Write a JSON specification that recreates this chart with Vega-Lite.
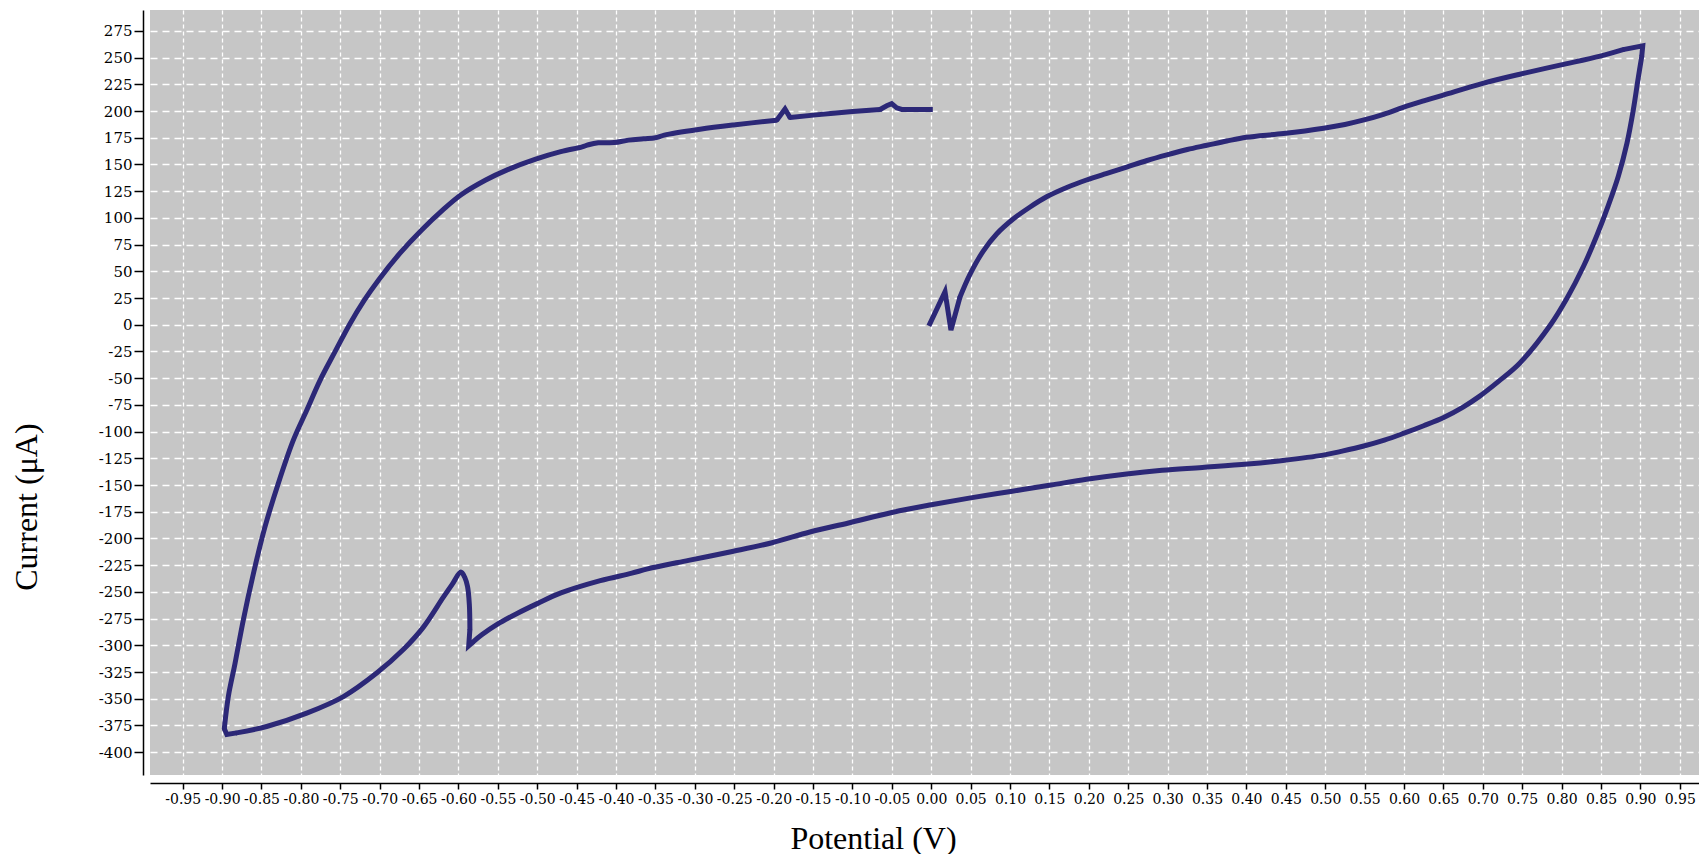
{
  "$schema": "https://vega.github.io/schema/vega-lite/v6.json",
  "width": 1549,
  "height": 765,
  "autosize": {"type": "none"},
  "padding": {"left": 150, "top": 10, "right": 0, "bottom": 79},
  "background": "white",
  "config": {"view": {"fill": "#c6c6c6", "stroke": null}},
  "data": {"values": [
    {"seg": 1, "i": 1, "E": -0.003, "I": -1},
    {"seg": 1, "i": 2, "E": 0.0175, "I": 31},
    {"seg": 1, "i": 3, "E": 0.025, "I": -5},
    {"seg": 1, "i": 4, "E": 0.0365, "I": 26},
    {"seg": 2, "i": 4, "E": 0.0365, "I": 26},
    {"seg": 2, "i": 5, "E": 0.049, "I": 47},
    {"seg": 2, "i": 6, "E": 0.066, "I": 69},
    {"seg": 2, "i": 7, "E": 0.083, "I": 85},
    {"seg": 2, "i": 8, "E": 0.104, "I": 99},
    {"seg": 2, "i": 9, "E": 0.125, "I": 110},
    {"seg": 2, "i": 10, "E": 0.147, "I": 120},
    {"seg": 2, "i": 11, "E": 0.172, "I": 128.5},
    {"seg": 2, "i": 12, "E": 0.197, "I": 135.5},
    {"seg": 2, "i": 13, "E": 0.222, "I": 141.5},
    {"seg": 2, "i": 14, "E": 0.248, "I": 147.5},
    {"seg": 2, "i": 15, "E": 0.273, "I": 153.5},
    {"seg": 2, "i": 16, "E": 0.299, "I": 159},
    {"seg": 2, "i": 17, "E": 0.325, "I": 164},
    {"seg": 2, "i": 18, "E": 0.35, "I": 168},
    {"seg": 2, "i": 19, "E": 0.375, "I": 172},
    {"seg": 2, "i": 20, "E": 0.4, "I": 175.5},
    {"seg": 2, "i": 21, "E": 0.447, "I": 179},
    {"seg": 2, "i": 22, "E": 0.498, "I": 184},
    {"seg": 2, "i": 23, "E": 0.525, "I": 187.5},
    {"seg": 2, "i": 24, "E": 0.548, "I": 191.5},
    {"seg": 2, "i": 25, "E": 0.574, "I": 197},
    {"seg": 2, "i": 26, "E": 0.599, "I": 203.5},
    {"seg": 2, "i": 27, "E": 0.625, "I": 209.5},
    {"seg": 2, "i": 28, "E": 0.65, "I": 215},
    {"seg": 2, "i": 29, "E": 0.7, "I": 226},
    {"seg": 2, "i": 30, "E": 0.747, "I": 234.5},
    {"seg": 2, "i": 31, "E": 0.798, "I": 243},
    {"seg": 2, "i": 32, "E": 0.849, "I": 251.5},
    {"seg": 2, "i": 33, "E": 0.878, "I": 257.5},
    {"seg": 3, "i": 33, "E": 0.878, "I": 257.5},
    {"seg": 3, "i": 34, "E": 0.903, "I": 261},
    {"seg": 3, "i": 35, "E": 0.9017, "I": 251},
    {"seg": 4, "i": 35, "E": 0.9017, "I": 251},
    {"seg": 4, "i": 36, "E": 0.8975, "I": 232},
    {"seg": 4, "i": 37, "E": 0.891, "I": 201},
    {"seg": 4, "i": 38, "E": 0.883, "I": 170},
    {"seg": 4, "i": 39, "E": 0.872, "I": 139},
    {"seg": 4, "i": 40, "E": 0.859, "I": 111},
    {"seg": 4, "i": 41, "E": 0.845, "I": 84},
    {"seg": 4, "i": 42, "E": 0.828, "I": 55},
    {"seg": 4, "i": 43, "E": 0.807, "I": 25},
    {"seg": 4, "i": 44, "E": 0.786, "I": 0},
    {"seg": 4, "i": 45, "E": 0.7468, "I": -36},
    {"seg": 4, "i": 46, "E": 0.72, "I": -53},
    {"seg": 4, "i": 47, "E": 0.6957, "I": -67},
    {"seg": 4, "i": 48, "E": 0.675, "I": -77},
    {"seg": 4, "i": 49, "E": 0.651, "I": -86.5},
    {"seg": 4, "i": 50, "E": 0.625, "I": -94.5},
    {"seg": 4, "i": 51, "E": 0.6, "I": -101.5},
    {"seg": 4, "i": 52, "E": 0.575, "I": -108},
    {"seg": 4, "i": 53, "E": 0.549, "I": -113.5},
    {"seg": 4, "i": 54, "E": 0.52, "I": -118.5},
    {"seg": 4, "i": 55, "E": 0.4975, "I": -122},
    {"seg": 4, "i": 56, "E": 0.4464, "I": -127},
    {"seg": 4, "i": 57, "E": 0.4016, "I": -130.3},
    {"seg": 4, "i": 58, "E": 0.344, "I": -133.5},
    {"seg": 4, "i": 59, "E": 0.293, "I": -136.2},
    {"seg": 4, "i": 60, "E": 0.248, "I": -139.6},
    {"seg": 4, "i": 61, "E": 0.197, "I": -144.6},
    {"seg": 4, "i": 62, "E": 0.152, "I": -150},
    {"seg": 4, "i": 63, "E": 0.101, "I": -156},
    {"seg": 4, "i": 64, "E": 0.05, "I": -162},
    {"seg": 4, "i": 65, "E": 0.0, "I": -168.5},
    {"seg": 4, "i": 66, "E": -0.0486, "I": -175.5},
    {"seg": 4, "i": 67, "E": -0.105, "I": -185.5},
    {"seg": 4, "i": 68, "E": -0.154, "I": -194},
    {"seg": 4, "i": 69, "E": -0.202, "I": -204},
    {"seg": 4, "i": 70, "E": -0.251, "I": -212},
    {"seg": 4, "i": 71, "E": -0.308, "I": -220.5},
    {"seg": 4, "i": 72, "E": -0.36, "I": -228.5},
    {"seg": 4, "i": 73, "E": -0.38, "I": -232.5},
    {"seg": 4, "i": 74, "E": -0.42, "I": -239.5},
    {"seg": 4, "i": 75, "E": -0.47, "I": -251},
    {"seg": 4, "i": 76, "E": -0.5, "I": -261},
    {"seg": 4, "i": 77, "E": -0.525, "I": -270},
    {"seg": 4, "i": 78, "E": -0.55, "I": -280},
    {"seg": 4, "i": 79, "E": -0.57, "I": -290},
    {"seg": 4, "i": 80, "E": -0.581, "I": -296.5},
    {"seg": 5, "i": 80, "E": -0.581, "I": -296.5},
    {"seg": 5, "i": 81, "E": -0.587, "I": -300.5},
    {"seg": 5, "i": 82, "E": -0.5855, "I": -285},
    {"seg": 6, "i": 82, "E": -0.5855, "I": -285},
    {"seg": 6, "i": 83, "E": -0.5862, "I": -262},
    {"seg": 6, "i": 84, "E": -0.5885, "I": -245},
    {"seg": 6, "i": 85, "E": -0.5917, "I": -237},
    {"seg": 6, "i": 86, "E": -0.597, "I": -231.5},
    {"seg": 6, "i": 87, "E": -0.608, "I": -243},
    {"seg": 6, "i": 88, "E": -0.6192, "I": -255},
    {"seg": 6, "i": 89, "E": -0.6445, "I": -283},
    {"seg": 6, "i": 90, "E": -0.67, "I": -304},
    {"seg": 6, "i": 91, "E": -0.7038, "I": -326},
    {"seg": 6, "i": 92, "E": -0.746, "I": -348},
    {"seg": 6, "i": 93, "E": -0.7926, "I": -363.5},
    {"seg": 6, "i": 94, "E": -0.8434, "I": -376},
    {"seg": 6, "i": 95, "E": -0.8815, "I": -382},
    {"seg": 7, "i": 95, "E": -0.8815, "I": -382},
    {"seg": 7, "i": 96, "E": -0.894, "I": -383.5},
    {"seg": 7, "i": 97, "E": -0.8972, "I": -378},
    {"seg": 8, "i": 97, "E": -0.8972, "I": -378},
    {"seg": 8, "i": 98, "E": -0.8921, "I": -348},
    {"seg": 8, "i": 99, "E": -0.8836, "I": -317},
    {"seg": 8, "i": 100, "E": -0.873, "I": -276},
    {"seg": 8, "i": 101, "E": -0.8603, "I": -233},
    {"seg": 8, "i": 102, "E": -0.8455, "I": -189},
    {"seg": 8, "i": 103, "E": -0.8287, "I": -148.5},
    {"seg": 8, "i": 104, "E": -0.8096, "I": -108},
    {"seg": 8, "i": 105, "E": -0.7926, "I": -80},
    {"seg": 8, "i": 106, "E": -0.7757, "I": -52},
    {"seg": 8, "i": 107, "E": -0.7558, "I": -24},
    {"seg": 8, "i": 108, "E": -0.7377, "I": 1},
    {"seg": 8, "i": 109, "E": -0.7195, "I": 23},
    {"seg": 8, "i": 110, "E": -0.7014, "I": 42},
    {"seg": 8, "i": 111, "E": -0.6742, "I": 67},
    {"seg": 8, "i": 112, "E": -0.647, "I": 88.5},
    {"seg": 8, "i": 113, "E": -0.6198, "I": 107.5},
    {"seg": 8, "i": 114, "E": -0.5971, "I": 121.5},
    {"seg": 8, "i": 115, "E": -0.5654, "I": 135.5},
    {"seg": 8, "i": 116, "E": -0.5382, "I": 145},
    {"seg": 8, "i": 117, "E": -0.502, "I": 155},
    {"seg": 8, "i": 118, "E": -0.4702, "I": 162},
    {"seg": 8, "i": 119, "E": -0.443, "I": 166.5},
    {"seg": 8, "i": 120, "E": -0.435, "I": 168.5},
    {"seg": 8, "i": 121, "E": -0.4226, "I": 170.3},
    {"seg": 8, "i": 122, "E": -0.4022, "I": 170.5},
    {"seg": 8, "i": 123, "E": -0.3841, "I": 172.8},
    {"seg": 8, "i": 124, "E": -0.365, "I": 174},
    {"seg": 8, "i": 125, "E": -0.35, "I": 175},
    {"seg": 8, "i": 126, "E": -0.3388, "I": 177.5},
    {"seg": 8, "i": 127, "E": -0.2934, "I": 183},
    {"seg": 8, "i": 128, "E": -0.2512, "I": 187},
    {"seg": 8, "i": 129, "E": -0.1961, "I": 191.5},
    {"seg": 9, "i": 129, "E": -0.1961, "I": 191.5},
    {"seg": 9, "i": 130, "E": -0.1856, "I": 202},
    {"seg": 9, "i": 131, "E": -0.1792, "I": 194},
    {"seg": 10, "i": 131, "E": -0.1792, "I": 194},
    {"seg": 10, "i": 132, "E": -0.1242, "I": 198},
    {"seg": 10, "i": 133, "E": -0.065, "I": 201.5},
    {"seg": 11, "i": 133, "E": -0.065, "I": 201.5},
    {"seg": 11, "i": 134, "E": -0.0565, "I": 205},
    {"seg": 11, "i": 135, "E": -0.0502, "I": 207},
    {"seg": 11, "i": 136, "E": -0.0438, "I": 203},
    {"seg": 11, "i": 137, "E": -0.0374, "I": 201.5},
    {"seg": 11, "i": 138, "E": 0.002, "I": 201.5}
  ]},
  "encoding": {
    "x": {
      "field": "E",
      "type": "quantitative",
      "scale": {"domain": [-0.9915, 0.9744], "nice": false, "zero": false},
      "axis": {
        "title": "Potential (V)",
        "values": [-0.95, -0.9, -0.85, -0.8, -0.75, -0.7, -0.65, -0.6, -0.55, -0.5, -0.45, -0.4, -0.35, -0.3, -0.25, -0.2, -0.15, -0.1, -0.05, 0, 0.05, 0.1, 0.15, 0.2, 0.25, 0.3, 0.35, 0.4, 0.45, 0.5, 0.55, 0.6, 0.65, 0.7, 0.75, 0.8, 0.85, 0.9, 0.95],
        "labelExpr": "replace(format(datum.value, '.2f'), '\u2212', '-')",
        "offset": 8,
        "grid": true,
        "gridColor": "white",
        "gridDash": [4, 3],
        "gridWidth": 1.3,
        "domainColor": "black",
        "domainWidth": 1.5,
        "tickColor": "black",
        "tickSize": 6,
        "tickWidth": 1.5,
        "labelFont": "DejaVu Serif",
        "labelFontSize": 14,
        "labelColor": "black",
        "labelPadding": 3,
        "labelOverlap": false,
        "labelFlush": false,
        "titleFont": "Liberation Serif",
        "titleFontSize": 32,
        "titleFontWeight": "normal",
        "titleColor": "black",
        "titleX": 723,
        "titleY": 65,
        "titleBaseline": "alphabetic",
        "titleAlign": "center"
      }
    },
    "y": {
      "field": "I",
      "type": "quantitative",
      "scale": {"domain": [-421.4, 294.6], "nice": false, "zero": false},
      "axis": {
        "title": "Current (μA)",
        "values": [-400, -375, -350, -325, -300, -275, -250, -225, -200, -175, -150, -125, -100, -75, -50, -25, 0, 25, 50, 75, 100, 125, 150, 175, 200, 225, 250, 275],
        "labelExpr": "replace(format(datum.value, 'd'), '\u2212', '-')",
        "offset": 7,
        "grid": true,
        "gridColor": "white",
        "gridDash": [7, 5],
        "gridWidth": 1.3,
        "domainColor": "black",
        "domainWidth": 1.5,
        "tickColor": "black",
        "tickSize": 9,
        "tickWidth": 1.5,
        "labelFont": "DejaVu Serif",
        "labelFontSize": 15,
        "labelColor": "black",
        "labelPadding": 2,
        "labelOverlap": false,
        "labelFlush": false,
        "titleFont": "Liberation Serif",
        "titleFontSize": 32,
        "titleFontWeight": "normal",
        "titleColor": "black",
        "titleX": -107,
        "titleY": 496.6,
        "titleAngle": -90,
        "titleBaseline": "alphabetic",
        "titleAlign": "center"
      }
    },
    "detail": {"field": "seg", "type": "nominal"},
    "order": {"field": "i", "type": "quantitative"}
  },
  "layer": [
    {
      "transform": [{"filter": {"field": "seg", "oneOf": [2, 4, 6, 8, 10]}}],
      "mark": {"type": "line", "color": "#2c2877", "strokeWidth": 5, "interpolate": "catmull-rom", "strokeCap": "round", "clip": true}
    },
    {
      "transform": [{"filter": {"field": "seg", "oneOf": [1, 3, 5, 7, 9, 11]}}],
      "mark": {"type": "line", "color": "#2c2877", "strokeWidth": 5, "interpolate": "linear", "strokeJoin": "miter", "clip": true}
    }
  ]
}
